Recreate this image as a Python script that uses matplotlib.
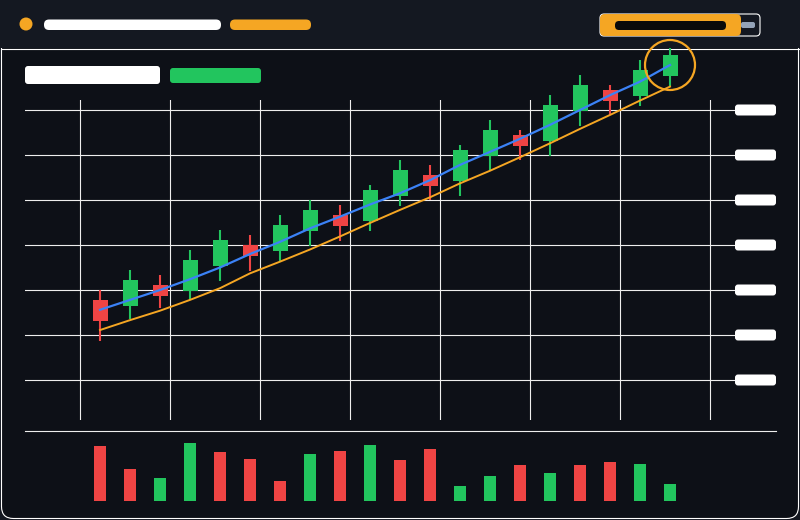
import matplotlib
matplotlib.use("Agg")
import matplotlib.pyplot as plt
from matplotlib.patches import FancyBboxPatch, Rectangle, Circle

# candle data (arbitrary price units)
opens  = [117.8, 116.5, 121.1, 119.8, 125.3, 130.0, 128.7, 133.1, 136.7, 135.3,
          140.9, 145.6, 144.2, 149.8, 154.4, 153.1, 159.8, 164.4, 163.1, 167.6]
closes = [113.1, 122.2, 118.7, 126.7, 131.1, 127.6, 134.4, 137.8, 134.3, 142.2,
          146.7, 143.2, 151.1, 155.6, 152.0, 161.1, 165.6, 162.0, 168.9, 172.2]
highs  = [120.0, 124.4, 123.3, 128.9, 133.3, 132.2, 136.7, 140.0, 138.9, 143.3,
          148.9, 147.8, 152.2, 157.8, 155.6, 163.3, 167.8, 165.6, 171.1, 173.8]
lows   = [108.7, 113.5, 115.9, 117.8, 122.1, 124.2, 126.3, 129.8, 130.9, 133.1,
          138.7, 140.0, 140.9, 146.4, 148.9, 149.8, 156.4, 158.9, 160.9, 165.3]

ma_line      = [115.6, 117.8, 120.0, 122.4, 125.0, 128.0, 130.7, 133.7, 136.3, 139.0,
                141.5, 144.4, 147.8, 150.7, 153.6, 156.7, 160.0, 163.3, 166.3, 170.0]
support_line = [111.1, 113.3, 115.4, 117.8, 120.4, 123.7, 126.3, 129.0, 131.9, 134.9,
                137.8, 140.6, 143.7, 146.5, 149.5, 152.6, 155.8, 158.9, 162.1, 165.2]

volumes = [55, 32, 23, 58, 49, 42, 20, 47, 50, 56, 41, 52, 15, 25, 36, 28, 36, 39, 37, 17]
vol_up  = [False, False, True, True, False, False, False, True, False, True,
           False, False, True, True, False, True, False, False, True, True]

price_levels = [100, 110, 120, 130, 140, 150, 160]

BG = "#0d1017"
HEADER = "#141821"
GREEN = "#22c55e"
RED = "#ef4444"
BLUE = "#3b82f6"
ORANGE = "#f5a623"
GRID = "#eeeeee"

fig = plt.figure(figsize=(8, 5.2), dpi=100)
fig.patch.set_facecolor(HEADER)

# full-figure axes in pixel units for the frame / header
chrome = fig.add_axes([0, 0, 1, 1])
chrome.set_xlim(0, 800)
chrome.set_ylim(520, 0)
chrome.axis("off")


def pill(x0, y0, x1, y1, color, r=4, ec="none", lw=0):
    chrome.add_patch(FancyBboxPatch((x0, y0), x1 - x0, y1 - y0,
                                    boxstyle=f"round,pad=0,rounding_size={r}",
                                    fc=color, ec=ec, lw=lw))


# main panel
chrome.add_patch(FancyBboxPatch((1.5, 30), 797, 488.5,
                                boxstyle="round,pad=0,rounding_size=12",
                                fc=BG, ec="white", lw=0.8))
chrome.add_patch(Rectangle((0, 0), 800, 48, fc=HEADER, ec="none"))
chrome.plot([1.5, 798.5], [48.5, 48.5], color="white", lw=0.8)

# header
chrome.add_patch(Circle((26, 24), 6.5, fc=ORANGE, ec="none"))
pill(44, 19.5, 221, 30, "white", 5)
pill(230, 19.5, 311, 30, ORANGE, 5)
pill(600, 14, 760, 36, "none", 4, ec="white", lw=0.8)
pill(741, 22, 755, 28, "#94a3b8", 2)
pill(600, 14, 741, 36, ORANGE, 5)
pill(615, 21, 726, 30, "#0a0a0a", 4)

# legend blocks
pill(25, 66, 160, 84, "white", 3)
pill(170, 68, 261, 83, GREEN, 3)

# separator between price and volume
chrome.plot([25, 776], [430.5, 430.5], color=GRID, lw=0.8)

# price axes
idx = list(range(len(opens)))
ax = fig.add_axes([25 / 800, 100 / 520, 710 / 800, 320 / 520])
ax.set_facecolor("none")
ax.set_xlim(-2.5, -2.5 + 710 / 30)
ax.set_ylim(100 - 40 / 4.5, 100 + 280 / 4.5)
ax.set_xticks([-2 / 3 + 3 * k for k in range(8)])
ax.set_yticks(price_levels)
ax.grid(True, color=GRID, lw=0.8)
ax.tick_params(length=0, labelbottom=False, labelleft=False)
for s in ax.spines.values():
    s.set_visible(False)

colors = [GREEN if c >= o else RED for o, c in zip(opens, closes)]
ax.vlines(idx, lows, highs, colors=colors, lw=1.5, zorder=3, clip_on=False)
ax.bar(idx, [abs(c - o) for o, c in zip(opens, closes)],
       bottom=[min(o, c) for o, c in zip(opens, closes)],
       width=0.5, color=colors, zorder=3, clip_on=False)

ax.plot(idx, support_line, color=ORANGE, lw=1.4, zorder=4, clip_on=False)
ax.plot(idx, ma_line, color=BLUE, lw=1.6, zorder=4, clip_on=False)
ax.scatter([idx[-1]], [ma_line[-1]], s=36 ** 2, facecolors="none",
           edgecolors=ORANGE, lw=1.6, zorder=5, clip_on=False)

# price label blocks on the right
for lvl in price_levels:
    _, yd = ax.transData.transform((0, lvl))
    ypx = 520 - yd
    pill(735, ypx - 5.5, 776, ypx + 5.5, "white", 3)

# volume axes
vax = fig.add_axes([25 / 800, 19 / 520, 710 / 800, 70 / 520])
vax.set_facecolor("none")
vax.set_xlim(-2.5, -2.5 + 710 / 30)
vax.set_ylim(0, 70)
vax.bar(idx, volumes, width=0.37, color=[GREEN if u else RED for u in vol_up])
vax.axis("off")

fig.savefig("out.png", dpi=100, facecolor=fig.get_facecolor())
